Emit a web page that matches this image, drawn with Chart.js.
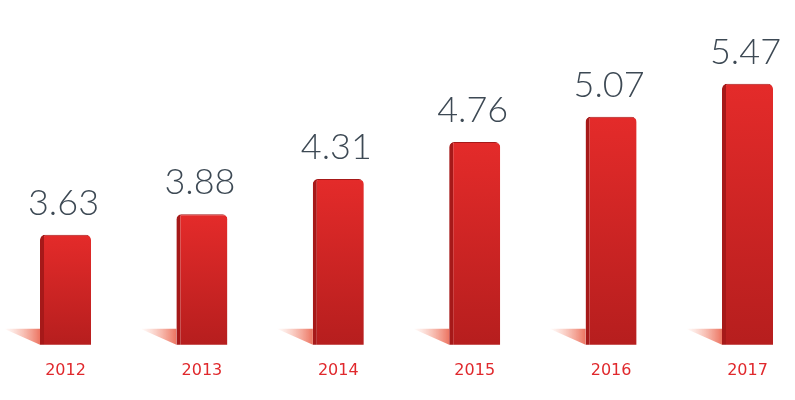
<!DOCTYPE html>
<html>
<head>
<meta charset="utf-8">
<script src="https://cdn.jsdelivr.net/npm/chart.js@4"></script>
<style>
  html, body { margin: 0; padding: 0; background: #ffffff; }
  #wrap { width: 795px; height: 400px; position: relative; }
</style>
</head>
<body>
<div id="wrap"><canvas id="revenueChart"></canvas></div>
<script>
const years = ['2012', '2013', '2014', '2015', '2016', '2017'];
const values = [3.63, 3.88, 4.31, 4.76, 5.07, 5.47];

const barTop = '#e42b2a';
const barBottom = '#b61e1e';
const barEdge = '#a61919';
const labelRed = '#e0282c';
const valueColor = '#3d4954';

// gradient per bar, from its own top down to the base line
function barGradient(context) {
    const chart = context.chart;
    const yScale = chart.scales.y;
    if (!yScale || !context.parsed) return barTop;
    const top = yScale.getPixelForValue(context.parsed.y);
    const base = yScale.bottom;
    if (!isFinite(top) || !isFinite(base) || base <= top) return barTop;
    const g = chart.ctx.createLinearGradient(0, top, 0, base);
    g.addColorStop(0, barTop);
    g.addColorStop(1, barBottom);
    return g;
}

// soft reddish shadow falling to the left of each bar foot
const shadowPlugin = {
    id: 'barShadow',
    beforeDatasetsDraw(chart) {
        const ctx = chart.ctx;
        const meta = chart.getDatasetMeta(0);
        const base = chart.chartArea.bottom;
        meta.data.forEach(bar => {
            const left = bar.x - bar.width / 2;
            const g = ctx.createLinearGradient(left - 36, 0, left, 0);
            g.addColorStop(0, 'rgba(245,130,100,0)');
            g.addColorStop(1, 'rgba(230,70,45,0.75)');
            ctx.save();
            ctx.beginPath();
            ctx.moveTo(left - 36, base - 16);
            ctx.lineTo(left, base - 16);
            ctx.lineTo(left, base);
            ctx.closePath();
            ctx.fillStyle = g;
            ctx.fill();
            ctx.restore();
        });
    }
};

// big value numbers above the bars
const valueLabelPlugin = {
    id: 'valueLabels',
    afterDatasetsDraw(chart) {
        const ctx = chart.ctx;
        const meta = chart.getDatasetMeta(0);
        ctx.save();
        ctx.font = '300 36px Lato, "Open Sans", sans-serif';
        ctx.fillStyle = valueColor;
        ctx.textAlign = 'center';
        ctx.textBaseline = 'alphabetic';
        meta.data.forEach((bar, i) => {
            ctx.fillText(values[i].toFixed(2), bar.x - 2, bar.y - 20);
        });
        ctx.restore();
    }
};

new Chart(document.getElementById('revenueChart'), {
    type: 'bar',
    data: {
        labels: years,
        datasets: [{
            data: values,
            backgroundColor: barGradient,
            borderColor: barEdge,
            borderWidth: { left: 4, top: 1, right: 0, bottom: 0 },
            borderSkipped: 'bottom',
            borderRadius: { topLeft: 5, topRight: 5, bottomLeft: 0, bottomRight: 0 },
            barPercentage: 0.374,
            categoryPercentage: 1,
            clip: { left: false, right: false, top: false, bottom: 0 }
        }]
    },
    options: {
        responsive: true,
        maintainAspectRatio: false,
        animation: false,
        layout: {
            padding: { left: 65.5, right: 47.5, top: 10, bottom: 4 }
        },
        plugins: {
            legend: { display: false },
            tooltip: { enabled: false }
        },
        scales: {
            x: {
                offset: false,
                grid: { display: false, drawTicks: false },
                border: { display: false },
                ticks: {
                    color: labelRed,
                    padding: 16,
                    font: { family: '"DejaVu Sans", sans-serif', size: 16 }
                }
            },
            y: {
                display: false,
                min: 2.29,
                max: 6.37
            }
        }
    },
    plugins: [shadowPlugin, valueLabelPlugin]
});
</script>
</body>
</html>
